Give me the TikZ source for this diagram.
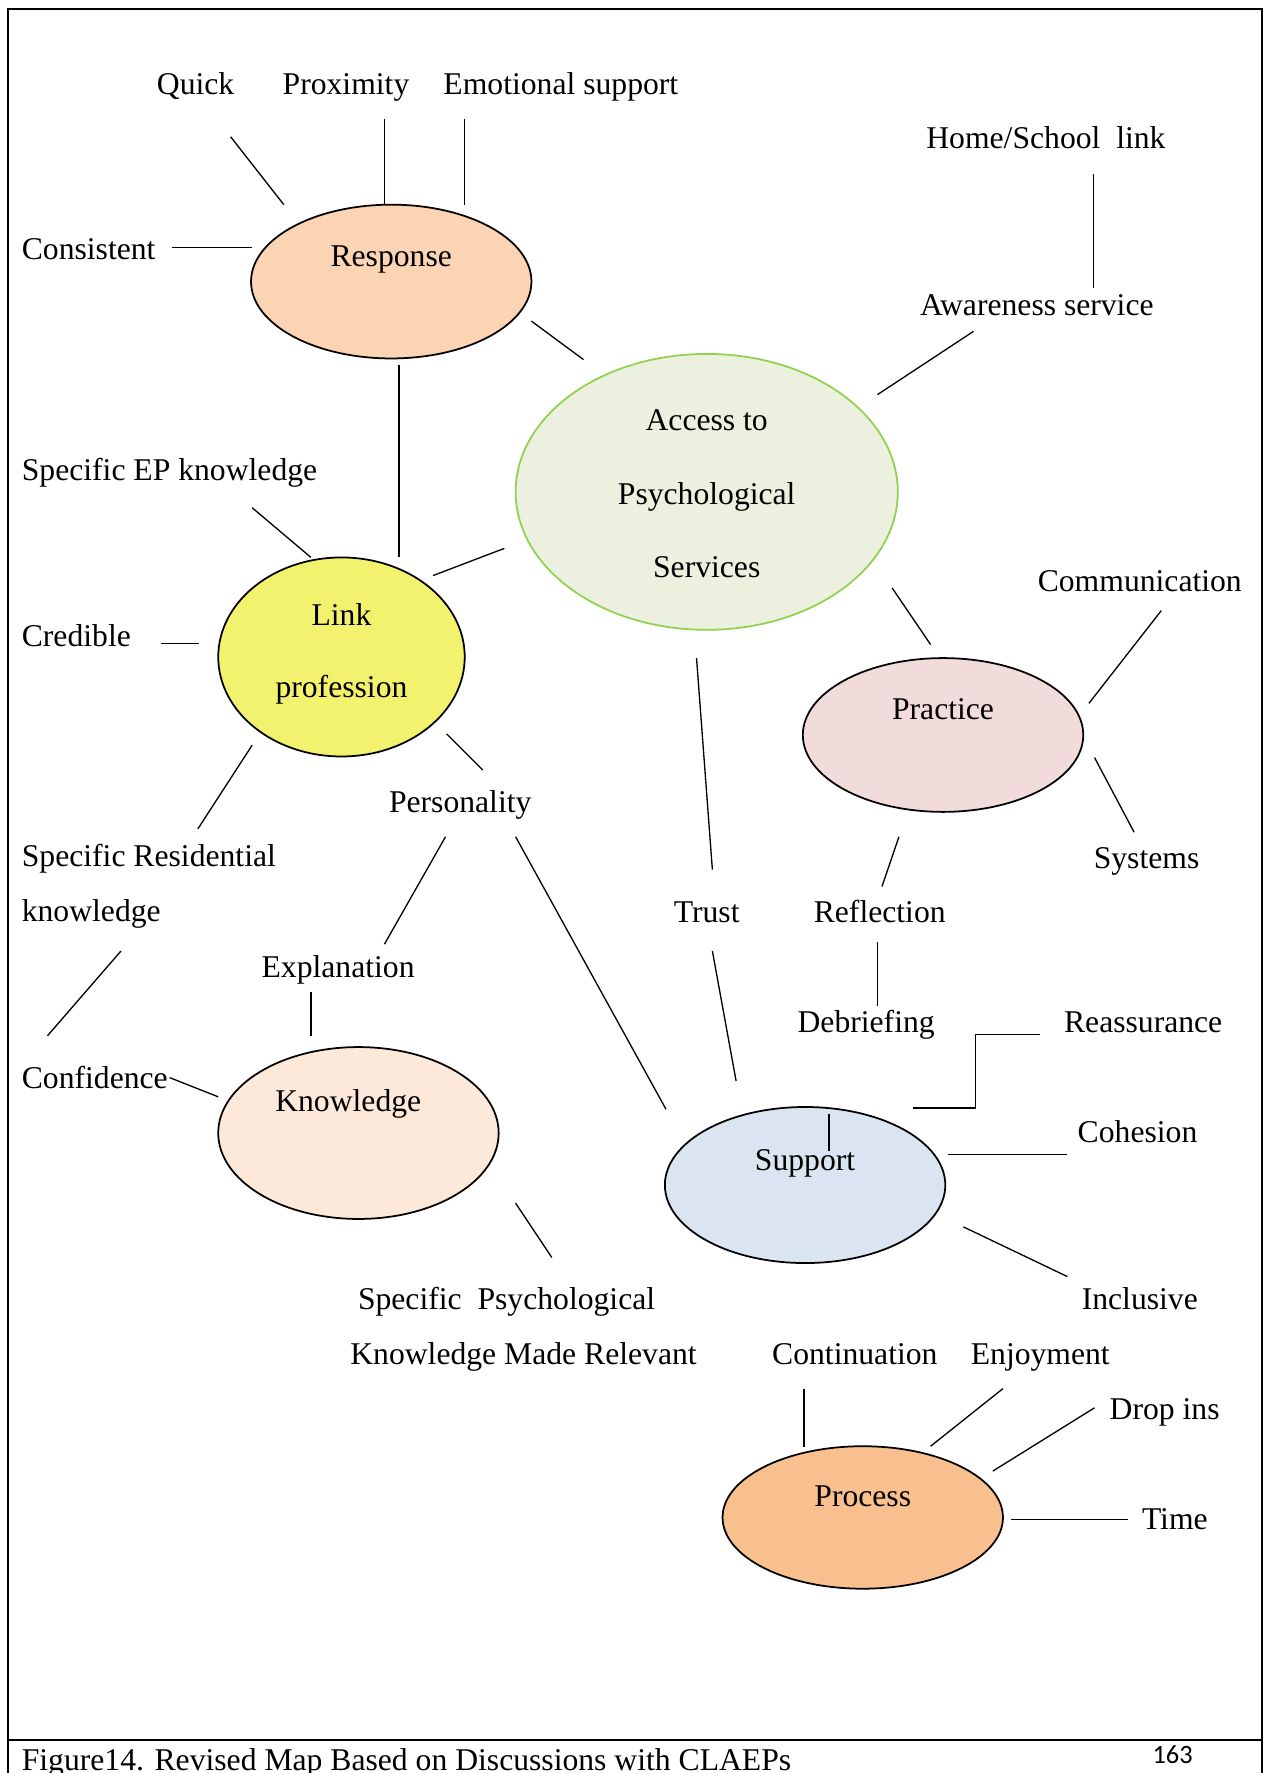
\documentclass[tikz,border=0pt]{standalone}
\usepackage{fontspec}
\setmainfont{Liberation Serif}
\newfontfamily\pagefont{Carlito}
\usetikzlibrary{shapes.geometric}

\definecolor{responsefill}{HTML}{FBD4B4}
\definecolor{accessfill}{HTML}{EBF1DE}
\definecolor{accessdraw}{HTML}{92D050}
\definecolor{linkfill}{HTML}{F2F26F}
\definecolor{practicefill}{HTML}{F2DCDB}
\definecolor{knowfill}{HTML}{FDE9D9}
\definecolor{supportfill}{HTML}{DBE5F1}
\definecolor{processfill}{HTML}{F9C08F}

\newcommand{\px}{0.0226cm}

\begin{document}
\begin{tikzpicture}[x=\px, y=-\px,
    bubble/.style={ellipse, draw, line width=1pt, inner sep=0pt},
    term/.style={inner sep=0pt, font=\fontsize{18}{21.6}\selectfont, text height=0.68em, text depth=0.2em, yshift=-6*\px},
    termblock/.style={inner sep=0pt, align=#1},
    link/.style={line width=0.75pt},
    frame/.style={line width=1.2pt}
]
\useasboundingbox (0,0) rectangle (1125,1568);

% Page frame and caption rule
\draw[frame] (7,1568) -- (7,8) -- (1116,8) -- (1116,1568);
\draw[frame] (7,1539) -- (1116,1539);

% Main bubbles
\node[bubble, fill=responsefill, minimum width=248*\px, minimum height=136*\px] (response) at (346,249) {};
\node[bubble, draw=accessdraw, fill=accessfill, minimum width=338*\px, minimum height=244*\px] (access) at (625,435) {};
\node[bubble, fill=linkfill, minimum width=218*\px, minimum height=176*\px] (linkprof) at (302,581) {};
\node[bubble, fill=practicefill, minimum width=248*\px, minimum height=136*\px] (practice) at (834,650) {};
\node[bubble, fill=knowfill, minimum width=248*\px, minimum height=152*\px] (knowledge) at (317,1002) {};
\node[bubble, fill=supportfill, minimum width=248*\px, minimum height=138*\px] (support) at (712,1048) {};
\node[bubble, fill=processfill, minimum width=248*\px, minimum height=126*\px] (process) at (763,1342) {};

% Bubble texts
\node[term] (responsetxt) at (346,226) {Response};
\node[termblock=center, font=\fontsize{18}{41.8}\selectfont] (accesstxt) at (625,437) {Access to\\Psychological\\Services};
\node[termblock=center, font=\fontsize{18}{41.1}\selectfont] (linktxt) at (302,578) {Link\\profession};
\node[term] (practicetxt) at (834,627) {Practice};
\node[term] (knowledgetxt) at (308,973) {Knowledge};
\node[term] (supporttxt) at (712,1025) {Support};
\node[term] (processtxt) at (763,1323) {Process};

% Outer terms
\node[term] (quick) at (173,74) {Quick};
\node[term] (proximity) at (306,74) {Proximity};
\node[term] (emotional) at (496,74) {Emotional support};
\node[term, anchor=west] (consistent) at (19,220) {Consistent};
\node[term] (homeschool) at (925,122) {Home/School\ \ link};
\node[term] (awareness) at (917,269) {Awareness service};
\node[term, anchor=west] (specificep) at (19,415) {Specific EP knowledge};
\node[term, anchor=west] (credible) at (19,562) {Credible};
\node[termblock=left, font=\fontsize{18}{31.4}\selectfont, anchor=west] (residential) at (19,784) {Specific Residential\\knowledge};
\node[term, anchor=west] (confidence) at (19,953) {Confidence};
\node[term] (explanation) at (299,855) {Explanation};
\node[term] (personality) at (407,709) {Personality};
\node[term] (trust) at (625,806) {Trust};
\node[term] (reflection) at (778,806) {Reflection};
\node[term] (debriefing) at (766,903) {Debriefing};
\node[term] (communication) at (1008,513) {Communication};
\node[term] (systems) at (1014,758) {Systems};
\node[term] (reassurance) at (1011,903) {Reassurance};
\node[term] (cohesion) at (1006,1001) {Cohesion};
\node[term] (inclusive) at (1008,1148) {Inclusive};
\node[term] (specpsych) at (448,1148) {Specific\ \ Psychological};
\node[term] (maderelevant) at (463,1197) {Knowledge Made Relevant};
\node[term] (continuation) at (756,1197) {Continuation};
\node[term] (enjoyment) at (920,1197) {Enjoyment};
\node[term] (dropins) at (1030,1246) {Drop ins};
\node[term] (time) at (1039,1343) {Time};

% Connectors (they float free of the texts and bubbles)
\foreach \name/\from/\to in {
    quickln/{204,121}/{251,181}, proxln/{340,105}/{340,181},
    emoln/{411,105}/{411,181}, consln/{152,219}/{223,219},
    resacc/{470,284}/{516,318}, reslink/{353,323}/{353,493},
    homeln/{967,154}/{967,255}, awareln/{861,293}/{776,349},
    specepln/{223,449}/{275,493}, acclink/{446,485}/{383,509},
    credln/{142,569}/{176,569}, residln/{223,659}/{175,733},
    linkpers/{395,649}/{427,681}, confup/{107,841}/{42,916},
    persexpl/{394,740}/{340,835}, perssupp/{456,740}/{589,981},
    explknow/{275,877}/{275,916}, confknow/{150,953}/{193,970},
    knowpsych/{456,1064}/{488,1112}, acctrust/{616,582}/{630,769},
    trustsupp/{630,841}/{651,956}, accprac/{789,520}/{823,570},
    commln/{1027,540}/{963,622}, sysln/{968,670}/{1003,736},
    pracrefl/{795,740}/{780,784}, refldebr/{776,833}/{776,890},
    cohln/{838,1021}/{944,1021}, inclln/{852,1085}/{944,1129},
    supptick/{733,985}/{733,1018}, contln/{711,1228}/{711,1280},
    enjln/{887,1228}/{823,1279}, dropln/{968,1245}/{878,1301},
    timeln/{894,1344}/{998,1344}}{
    \coordinate (\name-a) at (\from);
    \coordinate (\name-b) at (\to);
    \draw[link] (\name-a) -- (\name-b);
}

% Reassurance elbow
\coordinate (reass-a) at (807,980);
\coordinate (reass-b) at (920,915);
\draw[link] (reass-a) -- ++(56,0) |- (reass-b);

% Caption
\node[inner sep=0pt, anchor=base west, font=\fontsize{18}{21.6}\selectfont] (caption) at (19,1566) {Figure14. Revised Map Based on Discussions with CLAEPs};
\node[inner sep=0pt, font=\pagefont\fontsize{15}{18}\selectfont] (pagenum) at (1037,1552) {163};

\end{tikzpicture}
\end{document}
